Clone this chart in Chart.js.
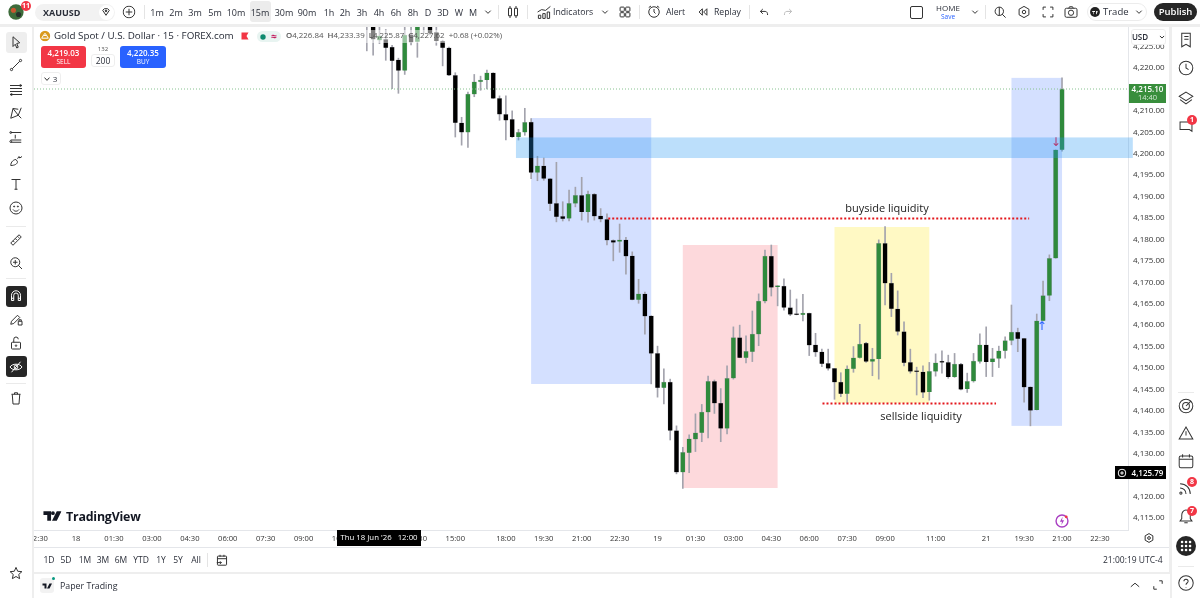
<!DOCTYPE html>
<html><head><meta charset="utf-8">
<script src="https://cdn.jsdelivr.net/npm/chart.js@4"></script>
<style>
html,body{margin:0;padding:0;width:1200px;height:598px;overflow:hidden;background:#eeeeee;font-family:"Open Sans",sans-serif;color:#2a2e39}
#ui{position:absolute;left:0;top:0;width:1200px;height:598px;pointer-events:none}
.p{position:absolute;background:#fff}
.t{position:absolute;transform:translate(-50%,-50%);white-space:nowrap;font-size:9px;line-height:1}
.l{position:absolute;transform:translateY(-50%);white-space:nowrap;font-size:8.700px;line-height:1}
.i{position:absolute;transform:translate(-50%,-50%)}
.i *{vector-effect:non-scaling-stroke}
.badge{position:absolute;transform:translate(-50%,-50%);background:#f23645;color:#fff;border-radius:50%;width:10px;height:10px;font-size:7px;line-height:10px;text-align:center;font-weight:700}
canvas{position:absolute;left:34px;top:27px}
</style></head>
<body>
<div class="p" style="left:0;top:0;width:1200px;height:24px"></div>
<div class="p" style="left:0;top:27px;width:32px;height:571px"></div>
<div class="p" style="left:1172px;top:27px;width:28px;height:571px"></div>
<div class="p" style="left:34px;top:27px;width:1135px;height:545px"></div>
<div class="p" style="left:34px;top:574px;width:1136px;height:24px"></div>
<div style="position:absolute;left:34px;top:27px;width:1135px;height:520px"><canvas id="c" width="1135" height="520" style="left:0;top:0"></canvas></div>
<div id="ui"></div>
<script>
// ---- data: 15-minute candles, oldest to newest ----
const openPrices = [4233,4231,4226.5,4226.7,4224.9,4221.9,4219.4,4227.8,4226.1,4229.8,4229.8,4228.3,4226.3,4224.7,4218.3,4207.2,4205,4213.9,4216.8,4217.2,4218.9,4212.9,4209.2,4208,4203.9,4205,4207.4,4195.6,4197.2,4194.2,4188.4,4185.4,4184.9,4188.4,4190.3,4186.4,4190.6,4185.5,4184.7,4179.8,4179.5,4179.9,4176.2,4165.9,4167.3,4162.2,4153.4,4145.4,4146.7,4135.4,4125.7,4130.2,4133.4,4134.9,4139.7,4146.9,4141.8,4135.9,4147.6,4157.1,4152.4,4153.8,4157.9,4165.6,4176.1,4168.9,4169.1,4164.1,4162.6,4162.4,4162.8,4155.4,4153.8,4151.1,4149.9,4146.7,4144,4149.8,4152.4,4155.8,4151.5,4152.1,4179.1,4169.8,4163.8,4158.5,4151.3,4149.2,4149.1,4144.4,4149.2,4151.4,4151.3,4147.9,4150.9,4145.1,4146.9,4151.5,4155.4,4151.4,4152.2,4154,4156.4,4158.4,4156.9,4145.6,4140.2,4161,4166.9,4175.6,4200.9];
const highPrices = [4235,4233,4231,4229,4225.3,4222.3,4230.5,4231,4232,4231,4231,4229.6,4226.5,4224.9,4218.9,4208.5,4214.4,4218.5,4218.1,4219.5,4218.9,4213.5,4213.5,4210,4205.7,4210.6,4208.2,4199.4,4199,4194.2,4198,4188.8,4191.5,4192.2,4194.5,4191.3,4190.7,4187.2,4186,4179.9,4183.6,4180.5,4177.1,4170.7,4167.7,4162.2,4155.1,4149.8,4147.4,4136.5,4131.5,4134.4,4139.3,4141.5,4148.1,4147.2,4145.2,4150.5,4159.6,4160,4157.5,4163.3,4167.3,4177.5,4178.7,4169.2,4170.8,4168.2,4166.1,4167.2,4162.8,4158.1,4154.4,4154.4,4149.9,4148.9,4150.5,4155,4160.2,4156,4154.6,4179.9,4183,4172.1,4168,4160.8,4154.4,4150.2,4150.5,4151.3,4153.3,4154,4153,4153.4,4151.1,4148.8,4153.4,4158,4159.6,4154.6,4155.1,4157.3,4164.7,4159.3,4156.9,4145.6,4162.6,4170.3,4176.4,4200.9,4217.7];
const lowPrices = [4224,4223,4225.7,4221.8,4215.2,4214.1,4218.5,4225.4,4222.5,4228.1,4227.7,4225.3,4220.5,4218.2,4203.9,4202,4201.5,4213.3,4214.8,4215.1,4212.9,4207.8,4203.2,4203.8,4203.2,4204.3,4194.2,4193.7,4193.8,4186.7,4184.1,4184.3,4184.3,4187.6,4184.5,4184,4184.5,4184.1,4178.7,4175,4177,4171.9,4165.9,4165.1,4157.9,4146.3,4143.2,4141.6,4133.2,4125.3,4121.9,4125.6,4130.5,4132.8,4133.7,4139.4,4132.8,4134.6,4147.4,4152.4,4151.2,4151.5,4155.2,4165.2,4166.8,4164.5,4163.5,4162.2,4162.4,4161,4152.9,4152.7,4150.3,4149.5,4142.7,4143.3,4141.8,4149,4152.3,4151.3,4148.2,4147.4,4164.7,4162,4157.7,4150.5,4148.8,4143.7,4143.1,4142.5,4148.1,4148.8,4147.6,4147.8,4144.9,4144.3,4146.7,4151.1,4148,4148,4150.1,4152.3,4155.4,4153.8,4142,4136.5,4140.2,4161,4165.7,4175.6,4200.6];
const closePrices = [4231,4226.7,4227.5,4224.7,4221.7,4219.4,4227.7,4226,4229.8,4229.6,4228.1,4226.3,4224.7,4218.3,4207.2,4205,4213.9,4216.8,4217.2,4218.9,4212.9,4209.2,4207.8,4203.9,4205,4207.3,4195.6,4197.2,4194.2,4188.3,4185.3,4184.8,4188.4,4190.3,4186.4,4190.6,4185.4,4184.7,4179.8,4179.3,4179.9,4176.1,4165.9,4167.3,4162.1,4153.4,4145.4,4146.7,4135.4,4125.7,4130.3,4133.5,4134.9,4139.7,4146.9,4141.8,4135.9,4147.6,4157.1,4152.4,4153.9,4157.9,4165.6,4176.1,4168.8,4169.1,4164.1,4162.5,4162.4,4162.8,4155.3,4153.7,4151,4149.9,4146.7,4144,4149.8,4152.4,4155.6,4151.5,4152.1,4179.1,4169.8,4163.8,4158.5,4151.2,4149.2,4149.1,4144.3,4149.2,4151.2,4151.3,4147.9,4150.9,4145,4146.9,4151.6,4155.4,4151.4,4152.2,4154,4156.4,4158.4,4156.8,4145.5,4140.1,4161,4166.9,4175.6,4200.9,4215.1];
// time axis: bar index and label (the window starts before the first visible candle)
const timeTickBars   = [-52,-46,-40,-34,-28,-22,-16,-10,-4,8,14,22,28,34,40,46,52,58,64,70,76,82,90,98,104,110,116];
const timeTickLabels = ['22:30','18','01:30','03:00','04:30','06:00','07:30','09:00','10:30','13:30','15:00','18:00','19:30','21:00','22:30','19','01:30','03:00','04:30','06:00','07:30','09:00','11:00','21','19:30','21:00','22:30'];
const priceTicks = [4115,4120,4125,4130,4135,4140,4145,4150,4155,4160,4165,4170,4175,4180,4185,4190,4195,4200,4205,4210,4215,4220,4225];
const lastPrice = 4215.10;
const buysideLine  = {from:38.2, to:104.8, price:4184.9};
const sellsideLine = {from:72.1, to:99.56, price:4141.7};
const blueZoneA = {from:26, to:45,  top:4208.33, bottom:4146.27};
const redZone   = {from:50, to:65,  top:4178.7,  bottom:4122.0};
const yellowZone= {from:74, to:89,  top:4182.9,  bottom:4141.8};
const blueZoneB = {from:102,to:110, top:4217.7,  bottom:4136.5};
const lightBand = {from:23.6,to:121.2,top:4203.8, bottom:4199.0};
const notes = [{text:'buyside liquidity',x:82.3,price:4187.1},{text:'sellside liquidity',x:87.7,price:4138.7}];
const arrows = [{text:'↑',x:106.8,price:4159.6,color:'#2962ff'},{text:'↓',x:109,price:4202.6,color:'#b2386e'}];

const xMin=-52.66, xMax=120.44, yMin=4112.2, yMax=4229.57;
const GREEN='#2f8a3c', BLACK='#000000', WICK='#a3a3ad';
const idx = closePrices.map((_,i)=>i);
const up = idx.map(i=>closePrices[i]>=openPrices[i]);

function fillZone(chart,z,color){
  const {x,y}=chart.scales, c=chart.ctx;
  const x0=x.getPixelForValue(z.from),x1=x.getPixelForValue(z.to),y0=y.getPixelForValue(z.top),y1=y.getPixelForValue(z.bottom);
  c.save();c.fillStyle=color;c.fillRect(x0,y0,x1-x0,y1-y0);c.restore();
}
const overlays={id:'overlays',
  beforeDatasetsDraw(chart){
    fillZone(chart,blueZoneA,'rgba(41,98,255,0.2)');
    fillZone(chart,redZone,'rgba(242,54,69,0.19)');
    fillZone(chart,yellowZone,'rgba(255,235,59,0.3)');
    fillZone(chart,blueZoneB,'rgba(41,98,255,0.2)');
  },
  afterDatasetsDraw(chart){
    fillZone(chart,lightBand,'rgba(33,150,243,0.3)');
    const {x,y}=chart.scales,c=chart.ctx;
    c.save();c.textAlign='center';c.textBaseline='middle';
    c.font='11px "Open Sans"';c.fillStyle='#222';
    notes.forEach(n=>c.fillText(n.text,x.getPixelForValue(n.x),y.getPixelForValue(n.price)));
    c.font='12px "DejaVu Sans"';
    arrows.forEach(a=>{c.fillStyle=a.color;c.fillText(a.text,x.getPixelForValue(a.x),y.getPixelForValue(a.price));});
    c.restore();
  }};
const hLine=(o,color,w,dash)=>({type:'line',data:[{x:o.from,y:o.price},{x:o.to,y:o.price}],borderColor:color,borderWidth:w,borderDash:dash,pointRadius:0,fill:false,order:1});
new Chart(document.getElementById('c'),{
  type:'bar',
  data:{datasets:[
    hLine({from:xMin,to:xMax,price:lastPrice},'#86c28f',1,[1,2]),
    hLine(buysideLine,'#e3171c',2,[2,2]),
    hLine(sellsideLine,'#e3171c',2,[2,2]),
    {type:'bar',data:idx.map(i=>({x:i,y:[openPrices[i],closePrices[i]]})),backgroundColor:idx.map(i=>up[i]?GREEN:BLACK),borderColor:'rgba(130,130,140,0.55)',borderWidth:0.5,barThickness:4.6,grouped:false,minBarLength:1.4,order:2},
    {type:'bar',data:idx.map(i=>({x:i,y:[lowPrices[i],highPrices[i]]})),backgroundColor:WICK,barThickness:1,grouped:false,order:3}
  ]},
  plugins:[overlays],
  options:{
    responsive:false,animation:false,devicePixelRatio:1,
    layout:{padding:0},
    plugins:{legend:{display:false},tooltip:{enabled:false}},
    scales:{
      x:{type:'linear',offset:false,min:xMin,max:xMax,position:'bottom',
        grid:{display:false,drawTicks:false},border:{display:true,color:'#e4e6ea'},
        afterBuildTicks(s){s.ticks=timeTickBars.map(v=>({value:v}));},
        afterFit(s){s.height=17;s.paddingLeft=0;s.paddingRight=0;},
        ticks:{autoSkip:false,maxRotation:0,minRotation:0,padding:4,color:'#333',font:{family:'"Open Sans"',size:7.6},
          callback(v,i){return timeTickLabels[i];}}},
      y:{type:'linear',min:yMin,max:yMax,position:'right',
        grid:{display:false,drawTicks:false},border:{display:true,color:'#e4e6ea'},
        afterBuildTicks(s){s.ticks=priceTicks.map(v=>({value:v}));},
        afterFit(s){s.width=41;s.paddingTop=0;s.paddingBottom=0;},
        ticks:{autoSkip:false,padding:5,color:'#333',font:{family:'"Open Sans"',size:8},
          callback(v){return v.toLocaleString('en-US',{minimumFractionDigits:2,maximumFractionDigits:2});}}}
    }
  }
});

// ---- interface chrome ----
const ui=document.getElementById('ui');
function put(html){ui.insertAdjacentHTML('beforeend',html);}
function T(text,cx,cy,style){put(`<div class="t" style="left:${cx}px;top:${cy}px;${style||''}">${text}</div>`);}
function L(text,x,cy,style){put(`<div class="l" style="left:${x}px;top:${cy}px;${style||''}">${text}</div>`);}
function B(x,y,w,h,style,inner){put(`<div style="position:absolute;left:${x}px;top:${y}px;width:${w}px;height:${h}px;${style||''}">${inner||''}</div>`);}
function I(cx,cy,s,inner,stroke){put(`<svg class="i" style="left:${cx}px;top:${cy}px" width="${s}" height="${s}" viewBox="0 0 20 20" fill="none" stroke="${stroke||'#333'}" stroke-width="1">${inner}</svg>`);}
function Badge(txt,cx,cy){put(`<div class="badge" style="left:${cx}px;top:${cy}px">${txt}</div>`);}

// top bar
I(16,12,17,'<circle cx="10" cy="10" r="9" fill="#3d6b3a" stroke="none"/><circle cx="7" cy="8" r="3" fill="#c9562f" stroke="none"/><circle cx="13" cy="13" r="3" fill="#26302a" stroke="none"/>');
Badge('11',26,6);
B(35,4,80,17,'background:#f2f2f2;border-radius:9px');
L('XAUUSD',43,12,'font-weight:700;font-size:9px');
B(99,5,15,15,'background:#fff;border-radius:50%');
I(106,12,11,'<path d="M4 7l3-3h6l3 3-6 9z"/><circle cx="10" cy="8" r="1.5" fill="#333"/>');
I(129,12,13,'<circle cx="10" cy="10" r="9"/><path d="M10 5v10M5 10h10"/>');
B(250,1,21,21,'background:#ececec;border-radius:3px');
[['1m',157],['2m',176],['3m',195],['5m',215],['10m',236],['15m',260],['30m',284],['90m',307],['1h',329],['2h',345],['3h',362],['4h',379],['6h',396],['8h',413],['D',428],['3D',443],['W',459],['M',473]].forEach(a=>T(a[0],a[1],12));
I(488,12,9,'<path d="M4 7l6 6 6-6"/>');
B(144,5,1,14,'background:#e4e4e4');B(498,5,1,14,'background:#e4e4e4');B(527,5,1,14,'background:#e4e4e4');B(639,5,1,14,'background:#e4e4e4');B(749,5,1,14,'background:#e4e4e4');
I(513,12,15,'<rect x="4" y="5" width="4" height="10"/><rect x="12" y="5" width="4" height="10"/><path d="M6 2v3M6 15v3M14 2v3M14 15v3"/>');
I(544,12,16,'<path d="M2 10l5-3 5 1 6-5"/><rect x="3" y="14" width="3" height="4"/><rect x="8.500" y="12" width="3" height="6"/><rect x="14" y="10" width="3" height="8"/>');
L('Indicators',553,12);
I(605,12,9,'<path d="M4 7l6 6 6-6"/>');
I(625,12,14,'<rect x="3" y="3" width="6" height="6" rx="1"/><rect x="11" y="3" width="6" height="6" rx="1"/><rect x="3" y="11" width="6" height="6" rx="1"/><rect x="11" y="11" width="6" height="6" rx="1"/>');
I(654,12,15,'<circle cx="10" cy="10" r="7"/><path d="M10 6v4l2 2M3 4l3-2M17 4l-3-2"/>');
L('Alert',666,12);
I(703,12,13,'<path d="M9 5l-5 5 5 5zM16 5l-5 5 5 5z"/>');
L('Replay',714,12);
I(764,12,12,'<path d="M8 5L4 9l4 4M4 9h8c3 0 4 3 4 6"/>');
I(788,12,12,'<path d="M12 5l4 4-4 4M16 9H8c-3 0-4 3-4 6"/>','#bbb');
B(910,6,11,11,'border:1px solid #333;border-radius:2px');
T('HOME',948,8,'font-size:8px');
T('Save',948,16.500,'font-size:6.500px;color:#2962ff');
I(975,12,9,'<path d="M4 7l6 6 6-6"/>');
B(985,5,1,14,'background:#e4e4e4');
I(1000,12,14,'<circle cx="9" cy="9" r="6"/><path d="M13 13l5 5M9 3v12"/>');
I(1024,12,14,'<path d="M10 2l7 4v8l-7 4-7-4V6z"/><circle cx="10" cy="10" r="2.500"/>');
I(1048,12,14,'<path d="M3 7V3h4M13 3h4v4M17 13v4h-4M7 17H3v-4"/>');
I(1071,12,15,'<rect x="2" y="5" width="16" height="12" rx="2"/><circle cx="10" cy="11" r="3.500"/><path d="M7 5l1-2h4l1 2"/>');
B(1087,3,60,18,'border:1px solid #ececec;border-radius:10px;box-sizing:border-box');
I(1095,12,11,'<circle cx="10" cy="10" r="9" fill="#222" stroke="none"/><path d="M5 8h5v2H8v4H7V10H5zM12 8h3l-2 6h-1z" fill="#fff" stroke="none"/>');
L('Trade',1103,12,'font-size:9.500px');
I(1139,12,9,'<path d="M4 7l6 6 6-6"/>');
B(1154,3,43,18,'background:#262626;border-radius:9px');
T('Publish',1175.500,12,'color:#fff;font-size:9.500px;font-weight:600');

// left tools
B(6,32,21,21,'background:#eeeeee;border-radius:3px');
const lt=[[42,'<path d="M6 3l9 8-4 1 2 5-2 1-2-5-3 3z"/>'],[65,'<circle cx="4" cy="16" r="1.500"/><circle cx="16" cy="4" r="1.500"/><path d="M5 15L15 5"/>'],[90,'<path d="M2 4h16M2 8h16M2 12h16M2 16h16"/><circle cx="16" cy="4" r="1.200"/><circle cx="4" cy="16" r="1.200"/>'],[113,'<path d="M3 17L6 4l7 9 4-10M6 4l7 1M3 17l10-4 4 4"/>'],[137,'<path d="M3 4h14M3 14h14M3 17h14M9 7v5"/><circle cx="3" cy="4" r="1.200"/><circle cx="3" cy="16" r="1.200"/>'],[161,'<path d="M3 16c0-5 4-8 7-8l2 3c0 3-4 5-9 5zM12 7l2-3 1 2 3-2"/>'],[184,'<path d="M4 4h12M10 4v13M8 17h4"/>'],[208,'<circle cx="10" cy="10" r="8"/><circle cx="7.500" cy="8" r=".7" fill="#333"/><circle cx="12.500" cy="8" r=".7" fill="#333"/><path d="M6 12c2 3 6 3 8 0"/>'],[240,'<path d="M3 14L14 3l3 3L6 17z M6 11l2 2M9 8l2 2M12 5l2 2"/>'],[263,'<circle cx="9" cy="9" r="6"/><path d="M13 13l5 5M9 6v6M6 9h6"/>'],[319,'<path d="M3 17l1-4 8-8 3 3-8 8zM13 13h5v5h-5zM14 13v-2h3v2"/>'],[343,'<rect x="4" y="9" width="12" height="9" rx="1"/><path d="M7 9V5a3 3 0 016 0"/><circle cx="10" cy="13.500" r="1"/>'],[398,'<path d="M4 5h12M8 5V3h4v2M5 5l1 13h8l1-13"/>']];
lt.forEach(a=>I(16,a[0],15,a[1]));
B(6,286,21,21,'background:#262626;border-radius:3px');
I(16,296,15,'<path d="M4 16V9a6 6 0 0112 0v7h-3V9a3 3 0 00-6 0v7zM4 13h3M13 13h3"/>','#fff');
B(6,356,21,21,'background:#262626;border-radius:3px');
I(16,367,15,'<path d="M2 10c3-5 13-5 16 0-3 5-13 5-16 0z"/><circle cx="10" cy="10" r="2.500"/><path d="M4 17L16 3"/>','#fff');
B(6,226,20,1,'background:#eaeaea');B(6,278,20,1,'background:#eaeaea');B(6,383,20,1,'background:#eaeaea');
I(16,573,14,'<path d="M10 2l2.400 5.500 6 .6-4.500 4 1.300 6L10 15l-5.200 3.100 1.300-6-4.500-4 6-.6z"/>');

// right tools
const rt=[[40,'<path d="M5 2h10v16l-5-3-5 3zM8 6h5M8 9h5"/>'],[68,'<circle cx="10" cy="10" r="8"/><path d="M10 5v5l3 2"/>'],[98,'<path d="M10 3l8 5-8 5-8-5zM3 12l7 5 7-5"/>'],[127,'<path d="M3 4h14v11l-3-2H3z"/>'],[406,'<circle cx="10" cy="10" r="8"/><circle cx="10" cy="10" r="4"/><path d="M10 10l6-6"/>'],[433,'<path d="M10 3l8 14H2zM10 8v5"/>'],[461,'<rect x="2" y="4" width="16" height="14" rx="2"/><path d="M2 8h16M6 2v4M14 2v4"/>'],[488,'<path d="M3 5c7 0 12 5 12 12M3 10c4 0 7 3 7 7"/><circle cx="4" cy="16" r="1.300"/>'],[516,'<path d="M10 3c-3 0-5 3-5 6v4l-2 3h14l-2-3V9c0-3-2-6-5-6zM8 18h4"/>'],[583,'<circle cx="10" cy="10" r="8.500"/><path d="M7.500 8a2.500 2.500 0 115 0c0 2-2.500 2-2.500 4M10 15v.5"/>']];
rt.forEach(a=>I(1186,a[0],17,a[1]));
Badge('1',1192,120);Badge('8',1192,482);Badge('7',1192,511);
I(1186,546,20,'<circle cx="10" cy="10" r="10" fill="#262626" stroke="none"/><path d="M6 6h.1M10 6h.1M14 6h.1M6 10h.1M10 10h.1M14 10h.1M6 14h.1M10 14h.1M14 14h.1" stroke="#fff" stroke-width="2.500" stroke-linecap="round"/>');
B(1178,392,16,1,'background:#eaeaea');B(1178,566,16,1,'background:#eaeaea');

// legend over the chart
B(38,30,466,13,'background:rgba(255,255,255,0.5)');
I(45,36,11,'<circle cx="10" cy="10" r="9.500" fill="#d99a1c" stroke="none"/><path d="M4 14l3-5h6l3 5zM7 9l3-4 3 4" stroke="#fff"/>');
L('Gold Spot / U.S. Dollar · 15 · FOREX.com',54,36,'font-size:9.800px;color:#1f2430');
I(245,36,10,'<path d="M3 3h14l-4 7 4 7H3z" fill="#f23645" stroke="none"/>');
B(257,31,24,11,'background:#e8f4f1;border-radius:6px');
I(263,36.500,6,'<circle cx="10" cy="10" r="9" fill="#0f8a6f" stroke="none"/>');
T('≈',274,36,'font-size:10px;color:#c2185b;font-weight:700');
L('<b style="font-weight:600">O</b>4,226.84 <b style="font-weight:600">&nbsp;H</b>4,233.39 <b style="font-weight:600">&nbsp;L</b>4,225.87 <b style="font-weight:600">&nbsp;C</b>4,227.62 &nbsp;+0.68 (+0.02%)',286,36,'color:#555;font-size:7.900px');
B(41,46,45,22,'background:#f23645;border-radius:3px');
T('4,219.03',63.500,52.500,'color:#fff;font-size:8px;font-weight:600');
T('SELL',63.500,61.500,'color:#fff;font-size:6.500px');
T('132',103,49,'font-size:6px;color:#555');
B(91,54,24,13,'border:1px solid #eee;border-radius:3px;box-sizing:border-box;background:#fff');
T('200',103,61,'font-size:8.500px');
B(120,46,46,22,'background:#2962ff;border-radius:3px');
T('4,220.35',143,52.500,'color:#fff;font-size:8px;font-weight:600');
T('BUY',143,61.500,'color:#fff;font-size:6.500px');
B(41,72,20,13,'border:1px solid #eee;border-radius:3px;box-sizing:border-box;background:#fff');
I(47,78.500,7,'<path d="M3 6l7 8 7-8"/>');
T('3',55,78.500,'font-size:8px');

// price scale overlays
B(1131,29,35,16,'background:#fff;border:1px solid #eee;border-radius:3px;box-sizing:border-box');
T('USD',1140,36.500,'font-size:8px;font-weight:600');
I(1162,36.500,7,'<path d="M4 7l6 6 6-6"/>');
B(1129,84,37,19,'background:#388e3c');
T('4,215.10',1147.500,89,'color:#fff;font-size:8px;font-weight:600');
T('14:40',1147.500,98,'color:#cfe6d1;font-size:7.500px');
B(1115,466,14,13,'background:#000');
I(1121.500,472.500,9,'<circle cx="10" cy="10" r="8.500"/><path d="M10 6v8M6 10h8"/>','#fff');
B(1129,466,37,13,'background:#000');
T('4,125.79',1147.500,472.500,'color:#fff;font-size:8px;font-weight:600');

// time axis overlays
B(337,530,84,15.500,'background:#000');
T("Thu 18 Jun '26 &nbsp;&nbsp;12:00",379,538,'color:#fff;font-size:7.800px');
I(1149,538,11,'<path d="M10 2l7 4v8l-7 4-7-4V6z"/><circle cx="10" cy="10" r="2.500"/>');
I(1062,521,14,'<circle cx="10" cy="10" r="8.500" stroke="#a93fc2" stroke-width="1.400"/><path d="M11 4l-4 7h3l-1 5 4-7h-3z" fill="#a93fc2" stroke="none"/><circle cx="16" cy="4" r="2" fill="#f23645" stroke="none"/>');
// logo
I(52,516,19,'<path d="M1 5h8v10H5V9H1zM11 5a2 2 0 100 4 2 2 0 000-4zM15 5h5l-5 10h-5z" fill="#131722" stroke="none"/>');
L('TradingView',66,516.500,'font-size:12.400px;font-weight:700;color:#131722;letter-spacing:-.2px');
// range row
B(34,547,1135,1,'background:#e4e6ea');
[['1D',49],['5D',66],['1M',85],['3M',103],['6M',121],['YTD',141],['1Y',161],['5Y',178],['All',196]].forEach(a=>T(a[0],a[1],560,'font-size:8.500px'));
B(207,553,1,14,'background:#e4e4e4');
I(222,560,13,'<rect x="3" y="4" width="14" height="14" rx="1"/><path d="M3 8h14M7 2v3M13 2v3M2 14h7M7 12l2 2-2 2"/>');
L('21:00:19 UTC-4',1103,560,'font-size:8.500px');
// bottom panel
B(40,578,14,15,'background:#f2f2f2;border-radius:3px');
I(47,586,10,'<path d="M1 5h8v10H5V9H1zM15 5h5l-5 10h-5z" fill="#131722" stroke="none"/>');
B(51.500,577,3,3,'background:#089981;border-radius:50%');
L('Paper Trading',60,586,'font-size:8.800px');
I(1135,585,12,'<path d="M3 13l7-6 7 6"/>');
I(1158,585,12,'<path d="M3 12v5h5M12 3h5v5"/>');
</script>
</body></html>
